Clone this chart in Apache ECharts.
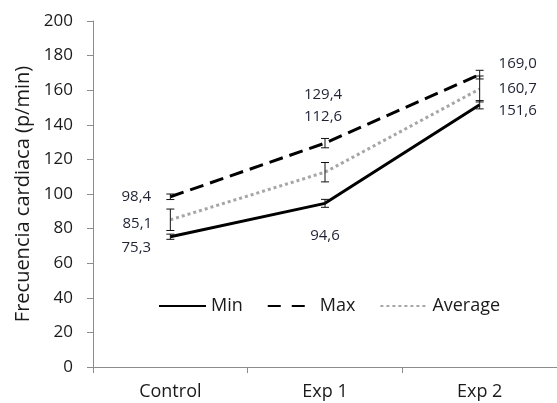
<!DOCTYPE html>
<html>
<head>
<meta charset="utf-8">
<script src="https://cdn.jsdelivr.net/npm/echarts@6/dist/echarts.min.js"></script>
<style>
  html, body { margin: 0; padding: 0; background: #fff; }
  #chart { width: 557px; height: 403px; }
</style>
</head>
<body>
<div id="chart"></div>
<script>
// Heart rate per condition
const categories = ['Control', 'Exp 1', 'Exp 2'];
const minValues = [75.3, 94.6, 151.6];
const maxValues = [98.4, 129.4, 169.0];
const avgValues = [85.1, 112.6, 160.7];
// Error bar half-widths (p/min)
const minErrors = [1.5, 2.3, 2.4];
const maxErrors = [1.6, 2.7, 2.5];
const avgErrors = [6.2, 5.6, 7.5];
const yTicks = { min: 0, max: 200, interval: 20 };

const FONT = '"Open Sans", sans-serif';
const TEXT = '#1a1a1a';

// Value label placement per series, per category: [dx, dy] from the point
const labelOffsets = {
  Min: [[-34, 11], [0, 32], [38, 6]],
  Max: [[-34, 0], [-2, -48], [38, -11]],
  Average: [[-33, 4], [-2, -55], [38, 0]]
};

const fmt = v => v.toFixed(1).replace('.', ',');

function labelSeries(name, values) {
  return {
    type: 'custom',
    data: values.map((v, i) => [i, v]),
    z: 5,
    silent: true,
    animation: false,
    renderItem(params, api) {
      const p = api.coord([api.value(0), api.value(1)]);
      const off = labelOffsets[name][params.dataIndex];
      return {
        type: 'text',
        x: p[0] + off[0],
        y: p[1] + off[1],
        style: {
          text: fmt(api.value(1)),
          fontFamily: FONT,
          fontSize: 15,
          fill: '#1e2233',
          align: 'center',
          verticalAlign: 'middle'
        }
      };
    }
  };
}

function errorData(values, errs) {
  return values.map((v, i) => [i, v - errs[i], v + errs[i]]);
}

function renderErrorBar(params, api) {
  const x = api.value(0);
  const lo = api.coord([x, api.value(1)]);
  const hi = api.coord([x, api.value(2)]);
  const half = 4;
  const style = { stroke: '#111', lineWidth: 1 };
  return {
    type: 'group',
    children: [
      { type: 'line', shape: { x1: lo[0], y1: lo[1], x2: hi[0], y2: hi[1] }, style },
      { type: 'line', shape: { x1: lo[0] - half, y1: lo[1], x2: lo[0] + half, y2: lo[1] }, style },
      { type: 'line', shape: { x1: hi[0] - half, y1: hi[1], x2: hi[0] + half, y2: hi[1] }, style }
    ]
  };
}

function lineSeries(name, values, lineStyle) {
  return {
    name,
    type: 'line',
    data: values,
    symbol: 'none',
    itemStyle: { color: lineStyle.color },
    lineStyle,
    z: 3,
    animation: false
  };
}

function errorSeries(values, errs) {
  return {
    type: 'custom',
    renderItem: renderErrorBar,
    data: errorData(values, errs),
    z: 4,
    silent: true,
    animation: false
  };
}

const chart = echarts.init(document.getElementById('chart'));
chart.setOption({
  animation: false,
  grid: { left: 93, right: 0, top: 21, bottom: 36 },
  legend: {
    data: [
      { name: 'Min' },
      { name: 'Max', lineStyle: { type: [13, 11] } },
      { name: 'Average' }
    ],
    left: 153,
    top: 292,
    itemWidth: 47,
    itemHeight: 14,
    itemGap: 24,
    itemStyle: { opacity: 0 },
    textStyle: { fontFamily: FONT, fontSize: 18, color: TEXT }
  },
  xAxis: {
    type: 'category',
    data: categories,
    boundaryGap: true,
    axisLine: { lineStyle: { color: '#8c8c8c', width: 1 } },
    axisTick: { show: true, length: 6, lineStyle: { color: '#8c8c8c' } },
    axisLabel: { fontFamily: FONT, fontSize: 18, color: TEXT, margin: 16 },
    splitLine: { show: false }
  },
  yAxis: {
    type: 'value',
    min: yTicks.min,
    max: yTicks.max,
    interval: yTicks.interval,
    name: 'Frecuencia cardiaca (p/min)',
    nameLocation: 'middle',
    nameRotate: 90,
    nameGap: 51,
    nameTextStyle: { fontFamily: FONT, fontSize: 20, color: TEXT },
    axisLine: { show: true, lineStyle: { color: '#8c8c8c', width: 1 } },
    axisTick: { show: true, length: 6, lineStyle: { color: '#8c8c8c' } },
    axisLabel: { fontFamily: FONT, fontSize: 17, color: TEXT, margin: 20 },
    splitLine: { show: false }
  },
  series: [
    lineSeries('Min', minValues, { color: '#000', width: 3, type: 'solid' }),
    lineSeries('Max', maxValues, { color: '#000', width: 3, type: [14, 7] }),
    lineSeries('Average', avgValues, { color: '#a6a6a6', width: 3, type: [3, 3] }),
    errorSeries(minValues, minErrors),
    errorSeries(maxValues, maxErrors),
    errorSeries(avgValues, avgErrors),
    labelSeries('Min', minValues),
    labelSeries('Max', maxValues),
    labelSeries('Average', avgValues)
  ]
});
</script>
</body>
</html>
